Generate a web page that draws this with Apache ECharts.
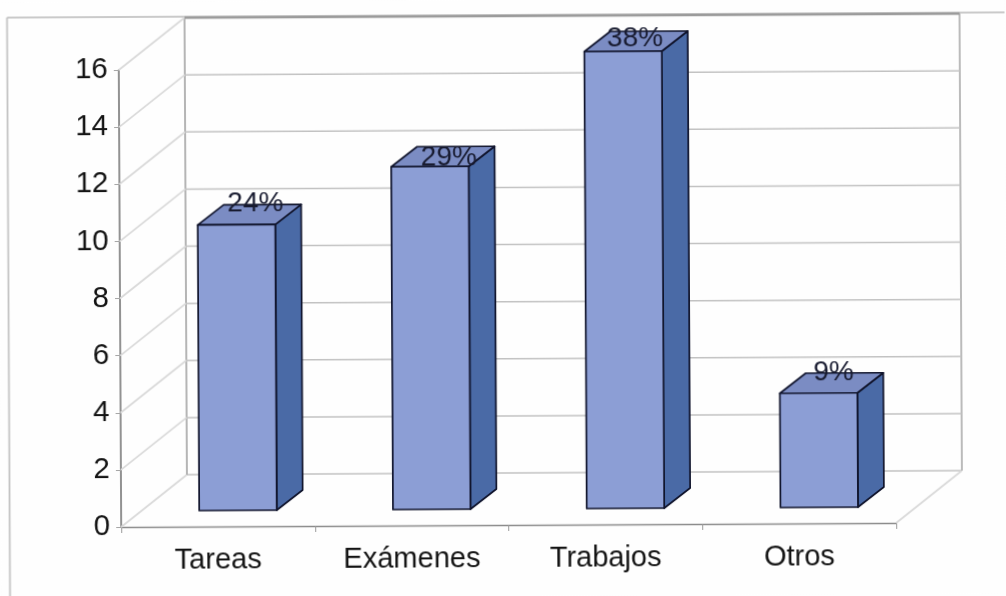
<!DOCTYPE html>
<html>
<head>
<meta charset="utf-8">
<style>
html,body{margin:0;padding:0;background:#fefefe;overflow:hidden}
#c{width:1006px;height:596px;transform:rotate(-0.3deg);transform-origin:503px 298px;filter:blur(0.45px)}
</style>
<script src="https://cdn.jsdelivr.net/npm/echarts@6/dist/echarts.min.js"></script>
</head>
<body>
<div id="c"></div>
<script>
const categories = ['Tareas', 'Exámenes', 'Trabajos', 'Otros'];
const values = [10, 12, 16, 4];
const percentLabels = ['24%', '29%', '38%', '9%'];
const yTicks = [0, 2, 4, 6, 8, 10, 12, 14, 16];

// projection of the fake 3D box
const WALL_DX = 66, WALL_DY = -52;
const BAR_DX = 20, BAR_DY = -16;
const DEPTH_DX = 26, DEPTH_DY = -20;
const BAR_FRACTION = 0.4;
const LABEL_NUDGE = [[19, -21], [19, -9], [12, -13], [15, -20]];
const FONT = '"Liberation Sans", Arial, sans-serif';
const BAR_FRONT = '#8c9ed5', BAR_SIDE = '#4a6aa6', BAR_TOP = '#7b8cc3', BAR_EDGE = '#10142c';

function line(a, b, color, width) {
  return {type: 'line', shape: {x1: a[0], y1: a[1], x2: b[0], y2: b[1]},
          style: {stroke: color, lineWidth: width}, silent: true};
}
function poly(points, fill) {
  return {type: 'polygon', shape: {points},
          style: {fill, stroke: BAR_EDGE, lineWidth: 1.7, lineJoin: 'round'}};
}

function renderWall(params, api) {
  const v = api.value(0);
  const left = api.coord([0, v]);
  const x0 = params.coordSys.x, x1 = x0 + params.coordSys.width;
  const p = [x0, left[1]];
  const back0 = [x0 + WALL_DX, p[1] + WALL_DY];
  const back1 = [x1 + WALL_DX, p[1] + WALL_DY];
  const kids = [];
  kids.push(line(p, back0, '#dadada', 1.8));
  kids.push(line(back0, back1, v === 16 ? '#9b9b9b' : '#c2c2c2', v === 16 ? 2.4 : 1.5));
  if (v === 0) {
    kids.push(line([x1, p[1]], back1, '#dadada', 1.8));
    const top = api.coord([0, 16])[1] + WALL_DY;
    kids.push(line(back0, [back0[0], top], '#adadad', 1.8));
    kids.push(line(back1, [back1[0], top], '#b4b4b4', 1.8));
  }
  return {type: 'group', children: kids};
}

function renderBar(params, api) {
  const idx = api.value(0), val = api.value(1);
  const base = api.coord([idx, 0]), top = api.coord([idx, val]);
  const w = api.size([1, 0])[0] * BAR_FRACTION;
  const xl = base[0] + BAR_DX - w / 2, xr = xl + w;
  const yb = base[1] + BAR_DY, yt = top[1] + BAR_DY;
  const dx = DEPTH_DX, dy = DEPTH_DY;
  const nudge = LABEL_NUDGE[idx];
  return {type: 'group', children: [
    poly([[xr, yb], [xr + dx, yb + dy], [xr + dx, yt + dy], [xr, yt]], BAR_SIDE),
    poly([[xl, yt], [xl + dx, yt + dy], [xr + dx, yt + dy], [xr, yt]], BAR_TOP),
    poly([[xl, yb], [xl, yt], [xr, yt], [xr, yb]], BAR_FRONT),
    {type: 'text', x: (xl + xr) / 2 + nudge[0], y: yt + nudge[1],
     style: {text: percentLabels[idx], fill: '#181b30', font: '28px ' + FONT,
             align: 'center', verticalAlign: 'middle'}}
  ]};
}

const chart = echarts.init(document.getElementById('c'), null, {renderer: 'canvas'});
chart.setOption({
  animation: false,
  backgroundColor: '#fefefe',
  grid: {left: 120, top: 68, width: 775, height: 457, containLabel: false},
  graphic: [
    {type: 'line', shape: {x1: 8.5, y1: 15, x2: 1020, y2: 15}, style: {stroke: '#b9b9b9', lineWidth: 1.4}},
    {type: 'line', shape: {x1: 8.5, y1: 15, x2: 8.5, y2: 610}, style: {stroke: '#c4c4c4', lineWidth: 1.8}}
  ],
  xAxis: {
    type: 'category', data: categories,
    axisLine: {lineStyle: {color: '#8c8c8c', width: 1.4}},
    axisTick: {show: true, alignWithLabel: false, length: 6, lineStyle: {color: '#9a9a9a'}},
    axisLabel: {color: '#141414', fontSize: 29, fontFamily: FONT, margin: 19},
    splitLine: {show: false}
  },
  yAxis: {
    type: 'value', min: 0, max: 16, interval: 2,
    axisLine: {show: true, lineStyle: {color: '#6e6e6e', width: 1.5}},
    axisTick: {show: true, length: 5, lineStyle: {color: '#a5a5a5'}},
    axisLabel: {color: '#141414', fontSize: 29.5, fontFamily: FONT, margin: 11},
    splitLine: {show: false}
  },
  series: [
    {type: 'custom', renderItem: renderWall, data: yTicks.map(v => [v]), encode: {y: 0}, z: 1, silent: true, clip: false},
    {type: 'custom', renderItem: renderBar, data: values.map((v, i) => [i, v]), encode: {x: 0, y: 1}, z: 3, silent: true, clip: false}
  ]
});
</script>
</body>
</html>
